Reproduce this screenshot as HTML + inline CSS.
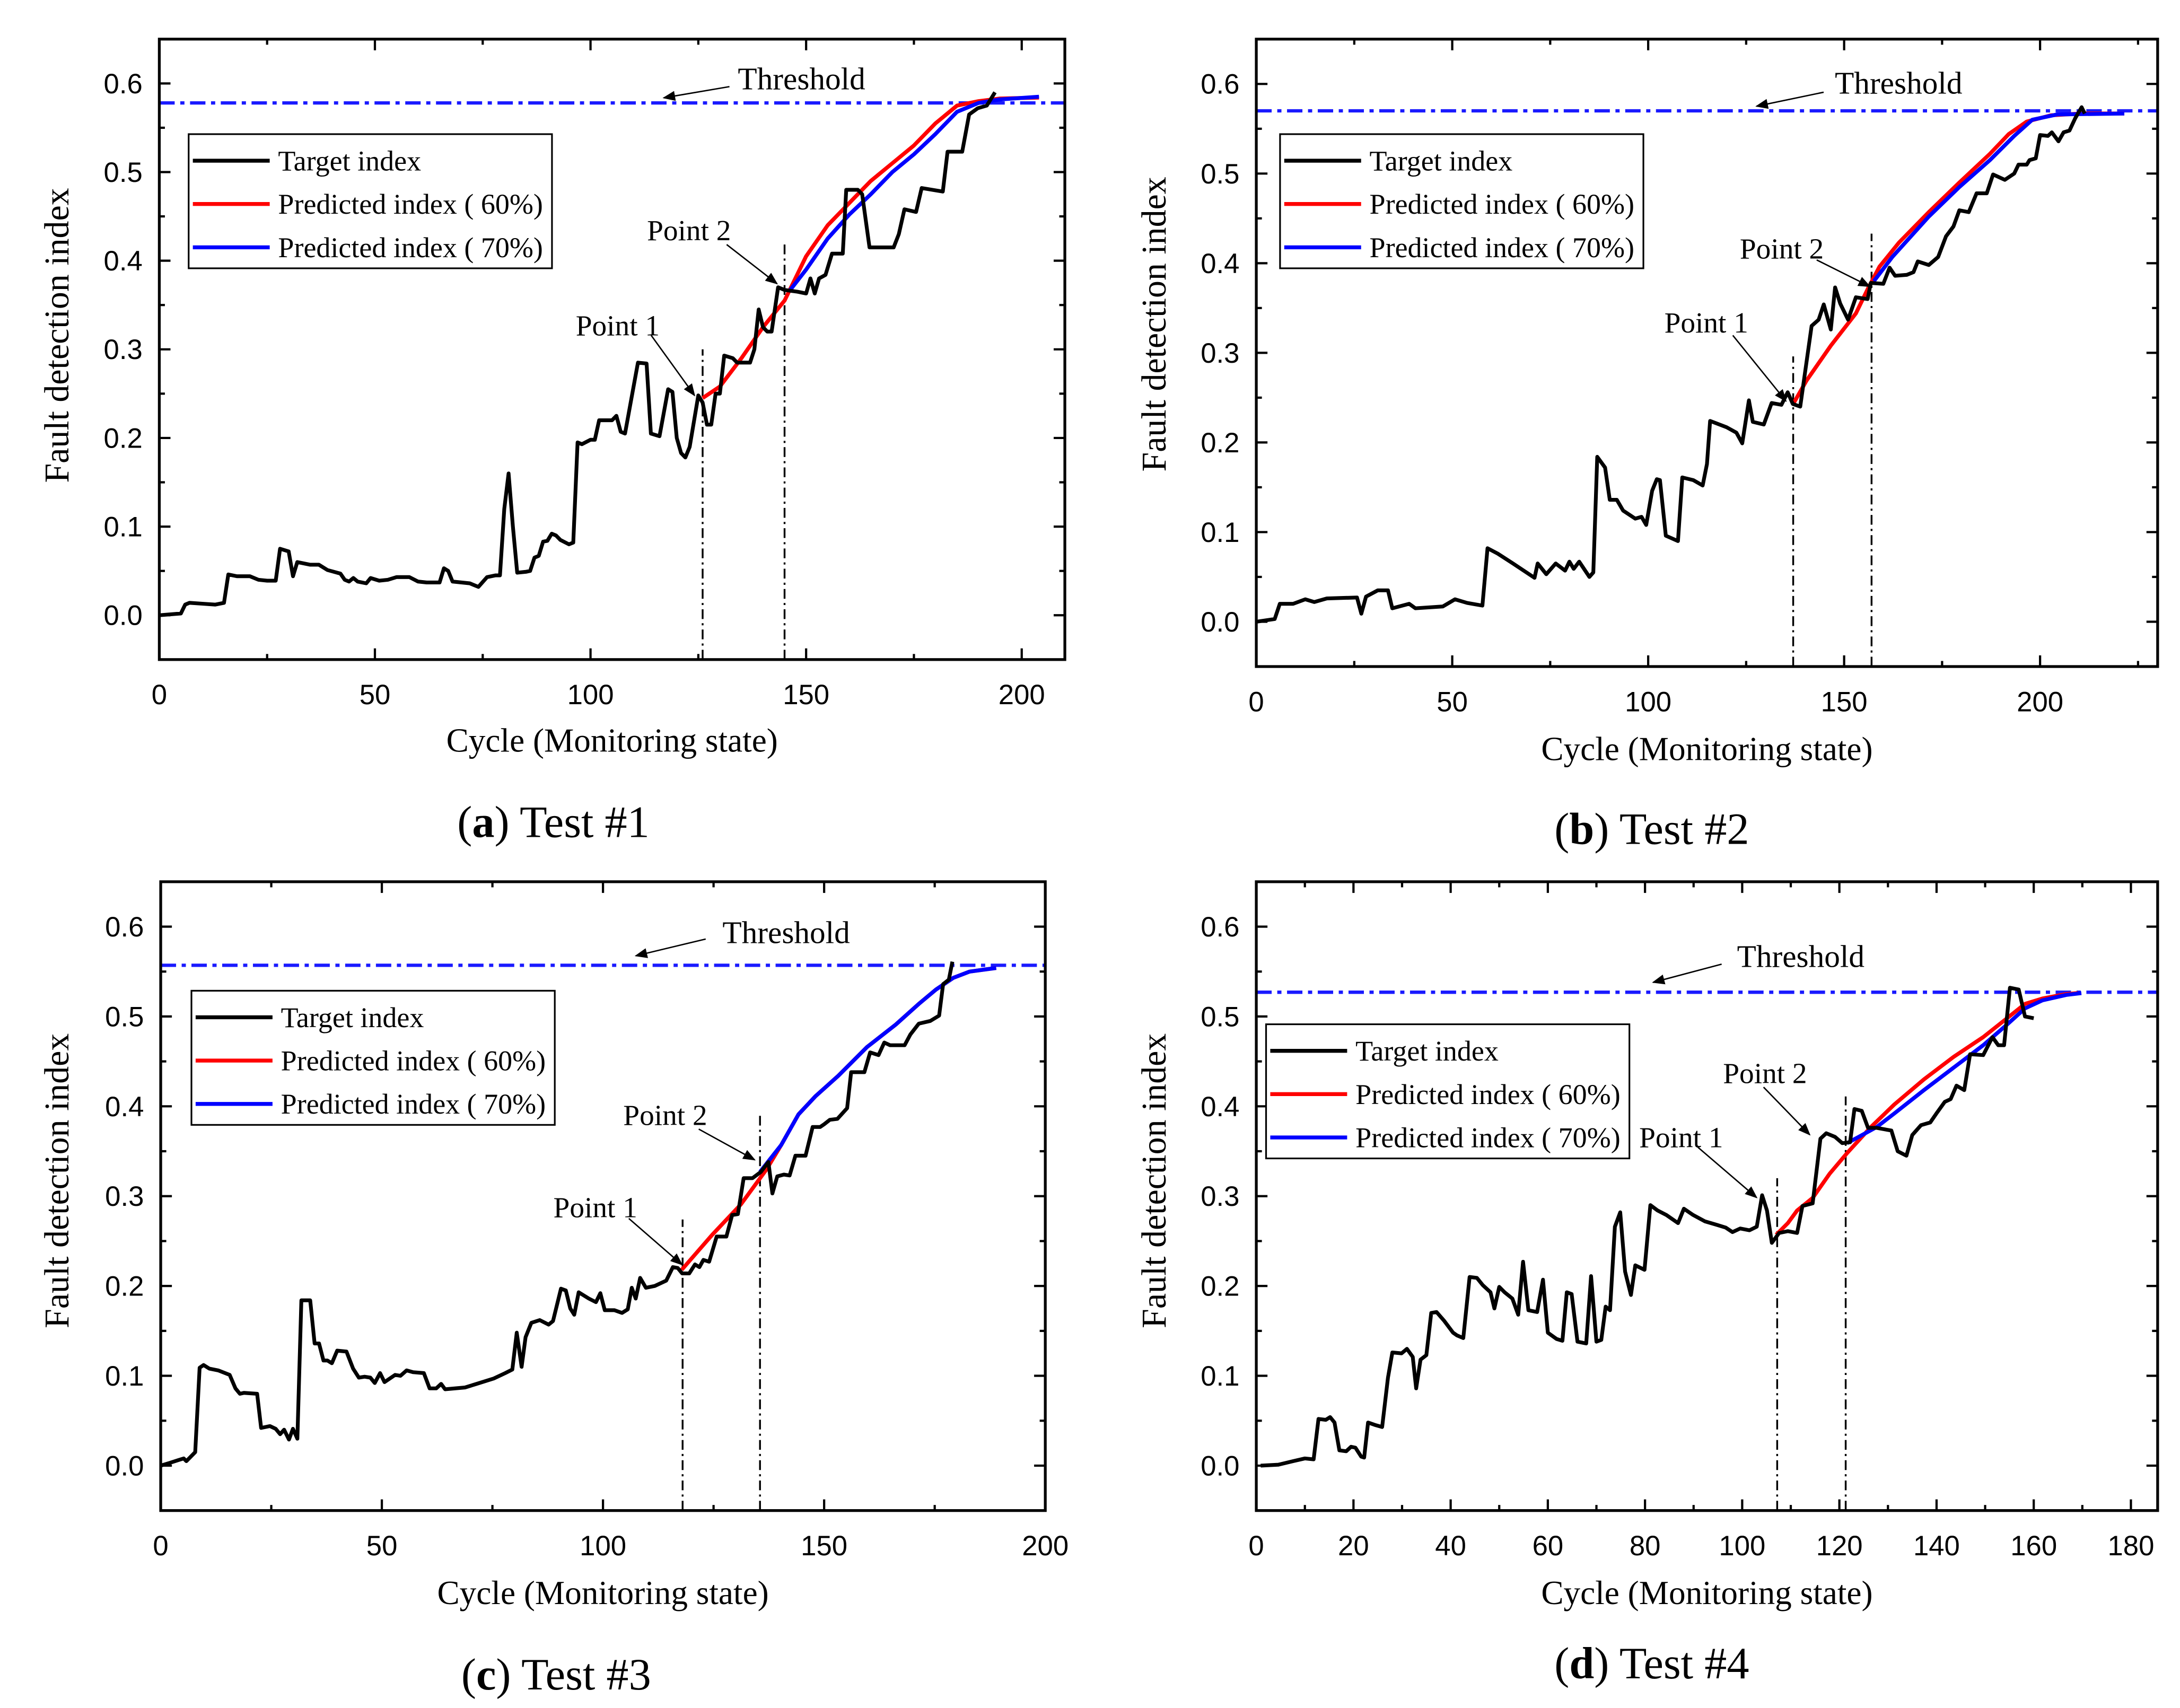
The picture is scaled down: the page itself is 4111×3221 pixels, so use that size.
<!DOCTYPE html>
<html><head><meta charset="utf-8"><style>
html,body{margin:0;padding:0;background:#fff}
svg{display:block}
text{font-family:"Liberation Serif",serif;fill:#000}
.tk{font-family:"Liberation Sans",sans-serif;font-size:20px}
</style></head><body>
<svg id="fig" width="4111" height="3221" viewBox="0 0 1560 1222.3" preserveAspectRatio="none" xmlns="http://www.w3.org/2000/svg">
<defs><marker id="ah" viewBox="0 0 10 10" refX="9" refY="5" markerWidth="9" markerHeight="9" orient="auto" markerUnits="userSpaceOnUse"><path d="M0,1 L10,5 L0,9 z" fill="#000"/></marker></defs>
</svg>
<script>
// ===== Panel A data =====
const aTargetX=[0,5,6,7,10,13,15,16,18,21,23,25,27,28,30,31,32,35,37,39,42,43,44,45,46,48,49,51,53,55,58,60,62,65,66,67,68,72,74,76,78,79,80,81,82,83,85,86,87,88,89,90,91,92,93,95,96,97,98,100,101,102,105,106,107,108,111,113,114,116,118,119,120,121,122,123,125,126,127,128,129,130,131,133,134,137,138,139,140,141,142,143.5,145,148,150,151,152,153,154.5,156,158.5,159.3,162,163,164.7,167,170.3,171.5,172.8,175.5,176.8,181.7,182.8,186.2,187.8,189.8,191.9,193.8];
const aTargetY=[0,0.002,0.012,0.014,0.013,0.012,0.014,0.046,0.044,0.044,0.04,0.039,0.039,0.075,0.072,0.044,0.06,0.057,0.057,0.051,0.047,0.04,0.038,0.042,0.038,0.036,0.042,0.039,0.04,0.043,0.043,0.038,0.037,0.037,0.053,0.05,0.038,0.036,0.032,0.043,0.045,0.045,0.12,0.16,0.1,0.048,0.049,0.05,0.065,0.067,0.083,0.084,0.092,0.09,0.085,0.08,0.082,0.195,0.193,0.198,0.198,0.22,0.22,0.225,0.207,0.205,0.285,0.284,0.205,0.202,0.255,0.252,0.2,0.183,0.178,0.19,0.248,0.24,0.215,0.215,0.25,0.25,0.293,0.29,0.285,0.285,0.3,0.345,0.325,0.32,0.32,0.37,0.367,0.365,0.363,0.38,0.363,0.38,0.384,0.408,0.408,0.48,0.48,0.475,0.415,0.415,0.415,0.43,0.458,0.455,0.482,0.478,0.523,0.523,0.565,0.572,0.575,0.59];
const aRedX=[126,130,135,140,145,150,155,160,165,170,175,180,185,190,195,204];
const aRedY=[0.245,0.258,0.29,0.325,0.355,0.405,0.44,0.465,0.49,0.51,0.53,0.555,0.575,0.58,0.583,0.584];
const aBlueX=[146,150,155,160,165,170,175,180,185,190,195,204];
const aBlueY=[0.365,0.39,0.425,0.452,0.475,0.5,0.52,0.543,0.568,0.578,0.582,0.585];
const aThreshold=0.578;
const aPointX=[126,145];
const aPointTop=[0.3,0.42];
const aXTicks=[0,50,100,150,200];
// ===== Panel B data =====
const bTargetX=[0,4.7,6,9.4,12.5,14.8,18,25.7,26.8,28,31,33.6,34.7,39,40.6,47.6,50.7,53.8,57.7,59,61.6,65.5,71,71.8,74,76.4,78.8,79.9,81,82.4,85,86,87,89,90.2,92,93.6,96.7,98.3,99.5,101,102.2,103,104.5,107.6,108.7,111.5,113.9,115,115.8,120,122.5,124,125.7,126.7,129.5,131.5,134,135.6,136.9,138.8,141.7,143.5,144.8,146.6,147.7,149,151,153,156,156.8,160,161.6,163,166,167.7,168.8,171.6,174,176,177.9,179.4,181.8,183.8,186.4,188,191,193.4,194.5,196.6,197.3,198.9,200,202,203,204.7,206,207.5,209,210.6,211.4];
const bTargetY=[0,0.003,0.02,0.02,0.025,0.022,0.026,0.027,0.009,0.028,0.035,0.035,0.015,0.02,0.015,0.017,0.025,0.021,0.018,0.082,0.076,0.065,0.049,0.065,0.053,0.065,0.057,0.067,0.059,0.067,0.05,0.055,0.184,0.172,0.136,0.136,0.124,0.115,0.117,0.108,0.146,0.159,0.158,0.096,0.09,0.161,0.158,0.152,0.176,0.224,0.217,0.211,0.199,0.247,0.223,0.22,0.244,0.242,0.256,0.243,0.24,0.33,0.337,0.354,0.326,0.373,0.355,0.337,0.362,0.36,0.378,0.377,0.395,0.386,0.387,0.39,0.402,0.398,0.407,0.43,0.441,0.459,0.457,0.478,0.478,0.499,0.493,0.5,0.51,0.51,0.515,0.517,0.543,0.542,0.546,0.536,0.546,0.548,0.562,0.574,0.567];
const bRedX=[137,140.4,146.6,153,156,159,164,171.6,179.4,187.2,192,196.6,202.8,210.6,221.5];
const bRedY=[0.243,0.269,0.308,0.344,0.371,0.396,0.423,0.457,0.49,0.522,0.544,0.558,0.565,0.567,0.567];
const bBlueX=[157.6,162.3,171.6,179.4,187.2,193.4,198,204.4,221.5];
const bBlueY=[0.38,0.407,0.452,0.485,0.515,0.542,0.56,0.566,0.567];
const bThreshold=0.570;
const bPointX=[137,157];
const bPointTop=[0.296,0.433];
const bXTicks=[0,50,100,150,200];
// ===== Panel C data =====
const cTargetX=[0,2,3.9,5.2,5.8,7.8,8.8,9.7,11,13,15.6,16.9,17.9,18.8,21.8,22.7,24.7,26,27,27.9,29,29.9,30.9,31.8,33.8,34.8,35.8,36.8,37.7,38.7,39.9,42,43.5,44.8,46.1,47.4,48.4,49.6,50.6,53,54.2,55.6,57.1,59.5,60.8,62.3,63.4,64.3,68.8,71.4,75.3,77.9,79.5,80.5,81.6,82.5,83.8,85.7,87.7,88.7,90.5,91.6,92.6,93.5,94.5,96.8,98.4,99.4,100.4,102.6,104.3,105.6,106.5,107.4,108.4,109.7,111.7,114.3,115.8,116.9,117.9,119.5,120.8,121.8,122.7,124,125.7,127.9,129.2,130.5,131.8,133.8,135.7,137.4,138.3,139.4,140.9,142.2,143.5,145.8,147.4,149.1,150,151.3,153,155.2,156.1,159.1,160.4,162.3,163.6,164.9,168.2,169.5,171.4,174,176,176.9,178.2,179];
const cTargetY=[0,0.003,0.006,0.008,0.005,0.015,0.109,0.112,0.108,0.106,0.101,0.086,0.08,0.081,0.08,0.042,0.044,0.041,0.035,0.04,0.029,0.041,0.03,0.184,0.184,0.136,0.136,0.117,0.117,0.114,0.128,0.127,0.108,0.098,0.099,0.098,0.092,0.103,0.093,0.101,0.1,0.106,0.104,0.103,0.086,0.086,0.091,0.085,0.087,0.091,0.097,0.103,0.107,0.148,0.11,0.143,0.159,0.162,0.157,0.161,0.197,0.195,0.175,0.168,0.193,0.186,0.182,0.192,0.173,0.173,0.17,0.174,0.198,0.186,0.209,0.198,0.2,0.206,0.221,0.22,0.214,0.214,0.224,0.221,0.229,0.227,0.255,0.255,0.279,0.28,0.32,0.32,0.327,0.338,0.303,0.322,0.324,0.323,0.345,0.345,0.377,0.377,0.38,0.385,0.386,0.398,0.438,0.438,0.46,0.457,0.471,0.468,0.468,0.48,0.492,0.495,0.501,0.536,0.541,0.561];
const cRedX=[117.8,124.7,131.2,137,140.3,144.2,148,153.2,159.7,166.2,171.4,175.3,179.2,182.9,188.9];
const cRedY=[0.218,0.257,0.291,0.33,0.357,0.391,0.411,0.434,0.466,0.491,0.514,0.53,0.543,0.55,0.554];
const cBlueX=[135.5,140.3,144.2,148,153.2,159.7,166.2,171.4,175.3,179.2,182.9,188.9];
const cBlueY=[0.327,0.357,0.391,0.411,0.434,0.466,0.491,0.514,0.53,0.543,0.55,0.554];
const cThreshold=0.557;
const cPointX=[118,135.5];
const cPointTop=[0.274,0.39];
const cXTicks=[0,50,100,150,200];
// ===== Panel D data =====
const dTargetX=[0.9,4.5,7.6,10,11.8,12.8,14.3,15.2,16.1,17.1,18.5,19.5,20.4,21.6,22.2,23,24.6,25.9,27.1,28,29.9,31,32.2,32.9,33.8,35,36,37.1,38.7,40.5,41.3,42.6,43.9,45.4,46.6,48.2,49,50,51.1,52.7,53.9,54.9,56,57.8,59,60,61.8,63,63.9,64.9,66.1,67.9,68.9,70,71,71.9,72.8,73.8,74.9,75.9,77.1,78,79.9,81.1,82.6,84.4,86.8,88,89.9,92.3,94.8,96.6,98,99.6,101.5,103,104.1,105.1,106.1,107.6,109.4,111.3,112.4,114.5,116.1,117.3,119.1,120.6,122.2,123.1,124.6,125.9,127.7,130.7,132,133.8,135,136.8,138.7,140.1,141.7,142.9,144.1,145.7,146.9,149.6,151.5,152.7,153.9,155.1,156.9,158.2,160];
const dTargetY=[0,0.001,0.005,0.008,0.007,0.052,0.051,0.054,0.048,0.017,0.016,0.021,0.02,0.01,0.009,0.048,0.045,0.043,0.098,0.126,0.125,0.13,0.121,0.086,0.118,0.123,0.17,0.171,0.161,0.148,0.145,0.142,0.21,0.209,0.201,0.193,0.175,0.199,0.193,0.186,0.168,0.227,0.173,0.171,0.207,0.148,0.141,0.139,0.193,0.191,0.138,0.136,0.211,0.138,0.14,0.177,0.173,0.266,0.282,0.216,0.19,0.223,0.218,0.29,0.284,0.279,0.27,0.286,0.279,0.272,0.268,0.265,0.26,0.264,0.262,0.266,0.301,0.284,0.248,0.259,0.261,0.259,0.289,0.292,0.364,0.37,0.366,0.359,0.36,0.397,0.395,0.376,0.376,0.373,0.35,0.345,0.368,0.379,0.382,0.393,0.405,0.408,0.423,0.418,0.458,0.457,0.477,0.468,0.468,0.532,0.53,0.5,0.498];
const dRedX=[107,109.4,111.3,114.5,118,121.6,126.5,131.3,137.4,143.5,149.6,154.5,158.2,161.8,166.7,169.1];
const dRedY=[0.257,0.27,0.284,0.298,0.325,0.348,0.377,0.402,0.43,0.455,0.477,0.498,0.514,0.52,0.525,0.526];
const dBlueX=[121.6,124,127.7,131.3,137.4,143.5,149.6,154.5,158.2,161.8,166.7,169.8];
const dBlueY=[0.359,0.366,0.377,0.392,0.418,0.443,0.468,0.491,0.509,0.518,0.524,0.526];
const dThreshold=0.527;
const dPointX=[107.2,121.3];
const dPointTop=[0.32,0.411];
const dXTicks=[0,20,40,60,80,100,120,140,160,180];
const yTicks=[0.0,0.1,0.2,0.3,0.4,0.5,0.6];
const yTickLabels=["0.0","0.1","0.2","0.3","0.4","0.5","0.6"];
const seriesNames=["Target index","Predicted index ( 60%)","Predicted index ( 70%)"];

const NS="http://www.w3.org/2000/svg";
const svg=document.getElementById('fig');
function mk(tag,attrs,parent,txt){const e=document.createElementNS(NS,tag);for(const k in attrs)e.setAttribute(k,attrs[k]);if(txt!==undefined)e.textContent=txt;(parent||svg).appendChild(e);return e;}

const panels=[
 {id:'a',L:114,R:762,T:28,B:472,xmax:210,minor:25,tx:aTargetX,ty:aTargetY,rx:aRedX,ry:aRedY,bx:aBlueX,by:aBlueY,th:aThreshold,px:aPointX,pt:aPointTop,xt:aXTicks,
  leg:[135,96],xt_y:530,cap:[396,588,'a','Test #1'],yt:[40,240],
  thr:[528,57,522,62,475,70],p2:[463,165,520,175,556,203],p1:[412,233,466,240,497,283]},
 {id:'b',L:899,R:1544,T:28,B:477,xmax:230,minor:25,tx:bTargetX,ty:bTargetY,rx:bRedX,ry:bRedY,bx:bBlueX,by:bBlueY,th:bThreshold,px:bPointX,pt:bPointTop,xt:bXTicks,
  leg:[916,96],xt_y:536,cap:[1182,593,'b','Test #2'],yt:[825,232],
  thr:[1313,60,1305,66,1257,76],p2:[1245,178,1300,186,1338,205],p1:[1191,231,1240,240,1278,287]},
 {id:'c',L:115,R:748,T:631,B:1081,xmax:200,minor:25,tx:cTargetX,ty:cTargetY,rx:cRedX,ry:cRedY,bx:cBlueX,by:cBlueY,th:cThreshold,px:cPointX,pt:cPointTop,xt:cXTicks,
  leg:[137,709],xt_y:1140,cap:[398,1198,'c','Test #3'],yt:[40,845],
  thr:[517,668,505,672,455,684],p2:[446,798,500,808,540,830],p1:[396,864,450,872,488,905]},
 {id:'d',L:899,R:1544,T:631,B:1081,xmax:185.5,minor:10,tx:dTargetX,ty:dTargetY,rx:dRedX,ry:dRedY,bx:dBlueX,by:dBlueY,th:dThreshold,px:dPointX,pt:dPointTop,xt:dXTicks,
  leg:[906,733],xt_y:1140,cap:[1182,1190,'d','Test #4'],yt:[825,845],
  thr:[1243,685,1232,690,1183,703],p2:[1233,768,1262,778,1295,812],p1:[1173,814,1215,821,1257,857]}
];

panels.forEach(p=>{
  const g=mk('g',{});
  
  
  const X=v=>p.L+(v/p.xmax)*(p.R-p.L);
  const Y=v=>p.B-((v+0.05)/0.7)*(p.B-p.T);
  for(let v=-0.05;v<=0.651;v+=0.05){
    const vv=Math.round(v*100)/100;const major=Math.abs(Math.round(vv*10)-vv*10)<1e-6;
    const len=major?8:4;const y=Y(vv);
    if(vv<-0.04||vv>0.64)continue;
    mk('line',{x1:p.L,y1:y,x2:p.L+len,y2:y,stroke:'#000','stroke-width':1.6},g);
    mk('line',{x1:p.R,y1:y,x2:p.R-len,y2:y,stroke:'#000','stroke-width':1.6},g);
  }
  yTicks.forEach((v,i)=>{
    const t=mk('text',{x:p.L-12,y:Y(v)+7,'text-anchor':'end',class:'tk'},g,yTickLabels[i]);
    
    
  });
  for(let v=p.minor;v<p.xmax;v+=p.minor){
    const major=(v%(p.minor*2)===0);const len=major?8:4;const x=X(v);
    mk('line',{x1:x,y1:p.B,x2:x,y2:p.B-len,stroke:'#000','stroke-width':1.6},g);
    mk('line',{x1:x,y1:p.T,x2:x,y2:p.T+len,stroke:'#000','stroke-width':1.6},g);
  }
  p.xt.forEach(v=>{
    const t=mk('text',{x:X(v),y:p.B+32,'text-anchor':'middle',class:'tk'},g,String(v));
    
    
  });
  const th=mk('line',{x1:p.L,y1:Y(p.th),x2:p.R,y2:Y(p.th),stroke:'#1a1aff','stroke-width':2.4,'stroke-dasharray':'11 4 3 4'},g);
  
  
  p.px.forEach((v,i)=>{
    const l=mk('line',{x1:X(v),y1:p.B,x2:X(v),y2:Y(p.pt[i]),stroke:'#000','stroke-width':1.3,'stroke-dasharray':'7 3 1.5 3'},g);
    
    
  });
  const path=(xs,ys)=>xs.map((x,i)=>(i?'L':'M')+X(x).toFixed(2)+','+Y(ys[i]).toFixed(2)).join(' ');
  const red=mk('path',{d:path(p.rx,p.ry),fill:'none',stroke:'#ff0000','stroke-width':2.8,'stroke-linejoin':'round'},g);
  
  
  const blue=mk('path',{d:path(p.bx,p.by),fill:'none',stroke:'#0000ff','stroke-width':2.8,'stroke-linejoin':'round'},g);
  
  
  const tgt=mk('path',{d:path(p.tx,p.ty),fill:'none',stroke:'#000','stroke-width':2.7,'stroke-linejoin':'round'},g);
  
  
  const fr=mk('rect',{x:p.L,y:p.T,width:p.R-p.L,height:p.B-p.T,fill:'none',stroke:'#000','stroke-width':2},g);
  
  
  [['thr','Threshold',22.5],['p2','Point 2',21],['p1','Point 1',21]].forEach(([k,lab,fs])=>{
    const a=p[k];
    const t=mk('text',{x:a[0],y:a[1]+7,'font-size':fs},g,lab);
    
    
    const ar=mk('line',{x1:a[2],y1:a[3],x2:a[4],y2:a[5],stroke:'#000','stroke-width':1,'marker-end':'url(#ah)'},g);
    
    
  });
  const lg=mk('g',{},g);
  
  
  mk('rect',{x:p.leg[0],y:p.leg[1],width:260,height:96,fill:'#fff',stroke:'#000','stroke-width':1.2},lg);
  const cols=['#000','#ff0000','#0000ff'];
  seriesNames.forEach((n,i)=>{
    const yy=p.leg[1]+19+i*31;
    const ln=mk('line',{x1:p.leg[0]+3,y1:yy,x2:p.leg[0]+58,y2:yy,stroke:cols[i],'stroke-width':2.8},lg);
    
    
    const t=mk('text',{x:p.leg[0]+64,y:yy+7,'font-size':20.5},lg,n);
    
    
  });
  const xt=mk('text',{x:(p.L+p.R)/2,y:p.xt_y+8,'text-anchor':'middle','font-size':24},g,'Cycle (Monitoring state)');
  
  
  const yt=mk('text',{x:0,y:0,'text-anchor':'middle','font-size':25,transform:'translate('+(p.yt[0]+9)+','+p.yt[1]+') rotate(-90)'},g,'Fault detection index');
  
  
  const cap=mk('text',{x:p.cap[0],y:p.cap[1]+11,'text-anchor':'middle','font-size':32},g);
  
  
  mk('tspan',{},cap,'(');mk('tspan',{'font-weight':'bold'},cap,p.cap[2]);mk('tspan',{},cap,') '+p.cap[3]);
});
</script>
</body></html>
